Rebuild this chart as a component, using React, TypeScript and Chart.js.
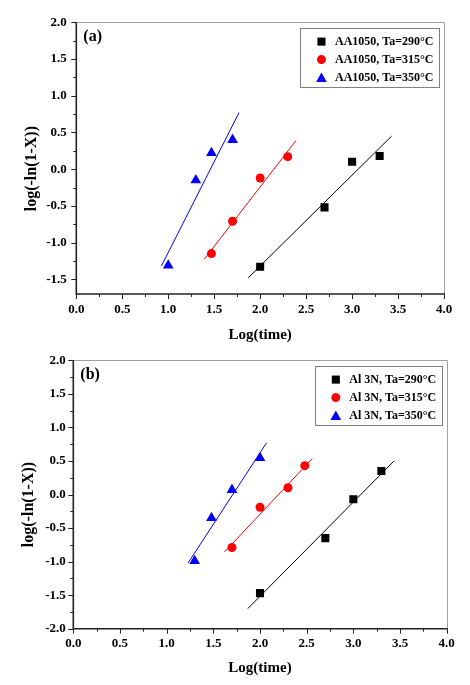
import React, { useEffect, useRef } from 'react';
import { Chart, registerables } from 'chart.js';

Chart.register(...registerables);

// ---------- data ----------
const xTickValues = [0, 0.5, 1.0, 1.5, 2.0, 2.5, 3.0, 3.5, 4.0];
const yTickValuesA = [-1.5, -1.0, -0.5, 0, 0.5, 1.0, 1.5, 2.0];
const yTickValuesB = [-2.0, -1.5, -1.0, -0.5, 0, 0.5, 1.0, 1.5, 2.0];

const xTitle = 'Log(time)';
const yTitle = 'log(-ln(1-X))';
const panelLabels = ['(a)', '(b)'];

const labelsA = ['AA1050, Ta=290°C', 'AA1050, Ta=315°C', 'AA1050, Ta=350°C'];
const labelsB = ['Al 3N, Ta=290°C', 'Al 3N, Ta=315°C', 'Al 3N, Ta=350°C'];

// Panel (a) measured points
const a290X = [2.0, 2.7, 3.0, 3.3];
const a290Y = [-1.33, -0.52, 0.1, 0.18];
const a315X = [1.47, 1.7, 2.0, 2.3];
const a315Y = [-1.15, -0.71, -0.12, 0.17];
const a350X = [1.0, 1.3, 1.47, 1.7];
const a350Y = [-1.31, -0.15, 0.22, 0.4];
// Panel (a) fit lines (start, end)
const a290FitX = [1.87, 3.43];
const a290FitY = [-1.48, 0.45];
const a315FitX = [1.39, 2.39];
const a315FitY = [-1.23, 0.39];
const a350FitX = [0.925, 1.77];
const a350FitY = [-1.32, 0.77];

// Panel (b) measured points
const b290X = [2.0, 2.7, 3.0, 3.3];
const b290Y = [-1.47, -0.65, -0.07, 0.35];
const b315X = [1.7, 2.0, 2.3, 2.48];
const b315Y = [-0.79, -0.19, 0.1, 0.43];
const b350X = [1.3, 1.48, 1.7, 2.0];
const b350Y = [-0.99, -0.35, 0.07, 0.545];
// Panel (b) fit lines
const b290FitX = [1.87, 3.436];
const b290FitY = [-1.7, 0.5];
const b315FitX = [1.62, 2.56];
const b315FitY = [-0.856, 0.535];
const b350FitX = [1.23, 2.07];
const b350FitY = [-1.02, 0.77];

const seriesColors = ['#000000', '#ff0000', '#0000ff'];
const seriesStyles = ['rect', 'circle', 'triangle'];
const seriesRadii = [5.7, 4.5, 6.2];

const FONT = '"Liberation Serif", "Times New Roman", serif';

const zip = (xs: number[], ys: number[]) => xs.map((x, i) => ({ x, y: ys[i] }));

function drawMarker(ctx: CanvasRenderingContext2D, style: string, x: number, y: number, r: number, color: string) {
  ctx.fillStyle = color;
  ctx.beginPath();
  if (style === 'rect') {
    const s = Math.SQRT1_2 * r;
    ctx.rect(x - s, y - s, 2 * s, 2 * s);
  } else if (style === 'circle') {
    ctx.arc(x, y, r, 0, Math.PI * 2);
  } else {
    let a = 0;
    ctx.moveTo(x + Math.sin(a) * r, y - Math.cos(a) * r);
    a += (2 * Math.PI) / 3;
    ctx.lineTo(x + Math.sin(a) * r, y - Math.cos(a) * r);
    a += (2 * Math.PI) / 3;
    ctx.lineTo(x + Math.sin(a) * r, y - Math.cos(a) * r);
    ctx.closePath();
  }
  ctx.fill();
}

const decorPlugin = {
  id: 'decor',
  beforeDatasetsDraw(chart: any, _args: any, opts: any) {
    const { ctx, chartArea: ca, scales } = chart;
    const xs = scales.x;
    const ys = scales.y;
    ctx.save();
    // light frame top/right
    ctx.strokeStyle = '#a0a0a0';
    ctx.lineWidth = 1;
    ctx.beginPath();
    ctx.moveTo(ca.left, Math.round(ca.top) + 0.5);
    ctx.lineTo(Math.round(ca.right) + 0.5, Math.round(ca.top) + 0.5);
    ctx.lineTo(Math.round(ca.right) + 0.5, ca.bottom);
    ctx.stroke();
    // dark axes left/bottom
    ctx.strokeStyle = '#222222';
    ctx.lineWidth = 1.6;
    ctx.beginPath();
    ctx.moveTo(ca.left, ca.top);
    ctx.lineTo(ca.left, ca.bottom);
    ctx.lineTo(ca.right + 1, ca.bottom);
    ctx.stroke();
    // tick marks (major and minor)
    ctx.lineWidth = 1;
    ctx.strokeStyle = '#222222';
    for (let k = Math.ceil(xs.min / 0.25 - 1e-6); k * 0.25 <= xs.max + 1e-6; k++) {
      const v = k * 0.25;
      const major = k % 2 === 0;
      const px = Math.round(xs.getPixelForValue(v)) + 0.5;
      ctx.beginPath();
      ctx.moveTo(px, ca.bottom);
      ctx.lineTo(px, ca.bottom + (major ? 5 : 3));
      ctx.stroke();
    }
    for (let k = Math.ceil(ys.min / 0.25 - 1e-6); k * 0.25 <= ys.max + 1e-6; k++) {
      const v = k * 0.25;
      const major = k % 2 === 0;
      const py = Math.round(ys.getPixelForValue(v)) + 0.5;
      ctx.beginPath();
      ctx.moveTo(ca.left, py);
      ctx.lineTo(ca.left - (major ? 5 : 3), py);
      ctx.stroke();
    }
    ctx.restore();
  },
  afterDatasetsDraw(chart: any, _args: any, opts: any) {
    const { ctx, chartArea: ca } = chart;
    ctx.save();
    // y title
    ctx.fillStyle = '#000';
    ctx.font = `bold 16px ${FONT}`;
    ctx.textAlign = 'center';
    ctx.textBaseline = 'middle';
    ctx.translate(opts.yTitleX, (ca.top + ca.bottom) / 2 + opts.yTitleShift);
    ctx.rotate(-Math.PI / 2);
    ctx.fillText(opts.yTitle, 0, 0);
    ctx.setTransform(1, 0, 0, 1, 0, 0);
    // panel label
    ctx.font = `bold 16px ${FONT}`;
    ctx.textAlign = 'left';
    ctx.textBaseline = 'middle';
    ctx.fillText(opts.panelLabel, ca.left + 7, ca.top + 14.3);
    // legend
    ctx.font = `bold 12px ${FONT}`;
    const labels: string[] = opts.legendLabels;
    const tw = Math.max(...labels.map((l) => ctx.measureText(l).width));
    const boxW = 34.5 + tw + 6;
    const boxH = 59;
    const right = ca.right - 4.5;
    const left = right - boxW;
    const top = ca.top + 5.5;
    ctx.fillStyle = '#ffffff';
    ctx.fillRect(left, top, boxW, boxH);
    ctx.strokeStyle = '#808080';
    ctx.lineWidth = 1;
    ctx.strokeRect(Math.round(left) + 0.5, Math.round(top) + 0.5, Math.round(boxW), Math.round(boxH));
    labels.forEach((l, i) => {
      const cy = top + 13.8 + i * 18;
      drawMarker(ctx, seriesStyles[i], left + 21, cy + (i === 2 ? 1.2 : 0), seriesRadii[i], seriesColors[i]);
      ctx.fillStyle = '#000';
      ctx.textAlign = 'left';
      ctx.textBaseline = 'middle';
      ctx.fillText(l, left + 34.5, cy + 0.5);
    });
    ctx.restore();
  },
};

type Panel = {
  height: number;
  padTop: number;
  padRight: number;
  yWidth: number;
  xHeight: number;
  yMin: number;
  yTicks: number[];
  yLabelPad: number;
  xTitlePadBottom: number;
  yTitleX: number;
  yTitleShift: number;
  panelLabel: string;
  legendLabels: string[];
  points: { x: number; y: number }[][];
  fits: { x: number; y: number }[][];
};

function buildConfig(p: Panel): any {
  const pointSets = p.points.map((d, i) => ({
    label: p.legendLabels[i],
    data: d,
    showLine: false,
    pointStyle: seriesStyles[i],
    pointRadius: seriesRadii[i],
    pointBackgroundColor: seriesColors[i],
    pointBorderColor: seriesColors[i],
    pointBorderWidth: 0,
    order: 0,
  }));
  const fitSets = p.fits.map((d, i) => ({
    label: p.legendLabels[i] + ' fit',
    data: d,
    showLine: true,
    borderColor: seriesColors[i],
    borderWidth: 1,
    pointRadius: 0,
    fill: false,
    order: 1,
  }));
  const tickFont = { family: FONT, size: 13, weight: 'bold' };
  return {
    type: 'scatter',
    data: { datasets: [...pointSets, ...fitSets] },
    options: {
      animation: false,
      responsive: false,
      maintainAspectRatio: false,
      devicePixelRatio: 1,
      events: [],
      layout: { padding: { top: p.padTop, right: p.padRight, left: 0, bottom: 0 } },
      plugins: {
        legend: { display: false },
        tooltip: { enabled: false },
        decor: {
          yTitle,
          yTitleX: p.yTitleX,
          yTitleShift: p.yTitleShift,
          panelLabel: p.panelLabel,
          legendLabels: p.legendLabels,
        },
      },
      scales: {
        x: {
          type: 'linear',
          min: 0,
          max: 4,
          afterBuildTicks: (s: any) => {
            s.ticks = xTickValues.map((v) => ({ value: v }));
          },
          afterFit: (s: any) => {
            s.height = p.xHeight;
          },
          grid: { display: false, drawTicks: false },
          border: { display: false },
          ticks: {
            padding: 7.5,
            color: '#000',
            font: tickFont,
            maxRotation: 0,
            autoSkip: false,
            callback: (v: any) => Number(v).toFixed(1),
          },
          title: {
            display: true,
            text: xTitle,
            color: '#000',
            font: { family: FONT, size: 15, weight: 'bold' },
            padding: { top: 0, bottom: p.xTitlePadBottom },
          },
        },
        y: {
          type: 'linear',
          min: p.yMin,
          max: 2,
          afterBuildTicks: (s: any) => {
            s.ticks = p.yTicks.map((v) => ({ value: v }));
          },
          afterFit: (s: any) => {
            s.width = p.yWidth;
          },
          grid: { display: false, drawTicks: false },
          border: { display: false },
          ticks: {
            padding: p.yLabelPad,
            color: '#000',
            font: tickFont,
            autoSkip: false,
            callback: (v: any) => Number(v).toFixed(1),
          },
          title: { display: false },
        },
      },
    },
    plugins: [decorPlugin],
  };
}

const panelA: Panel = {
  height: 345,
  padTop: 22.3,
  padRight: 26,
  yWidth: 76.3,
  xHeight: 51,
  yMin: -1.7,
  yTicks: yTickValuesA,
  yLabelPad: 9.5,
  xTitlePadBottom: 1,
  yTitleX: 32,
  yTitleShift: 10.5,
  panelLabel: panelLabels[0],
  legendLabels: labelsA,
  points: [zip(a290X, a290Y), zip(a315X, a315Y), zip(a350X, a350Y)],
  fits: [zip(a290FitX, a290FitY), zip(a315FitX, a315FitY), zip(a350FitX, a350FitY)],
};

const panelB: Panel = {
  height: 340,
  padTop: 9.7,
  padRight: 23.3,
  yWidth: 73.3,
  xHeight: 56.3,
  yMin: -2.0,
  yTicks: yTickValuesB,
  yLabelPad: 7.5,
  xTitlePadBottom: 7.7,
  yTitleX: 29.2,
  yTitleShift: 10,
  panelLabel: panelLabels[1],
  legendLabels: labelsB,
  points: [zip(b290X, b290Y), zip(b315X, b315Y), zip(b350X, b350Y)],
  fits: [zip(b290FitX, b290FitY), zip(b315FitX, b315FitY), zip(b350FitX, b350FitY)],
};

function ChartPanel({ panel }: { panel: Panel }) {
  const ref = useRef<HTMLCanvasElement | null>(null);
  useEffect(() => {
    if (!ref.current) return;
    const chart = new Chart(ref.current, buildConfig(panel));
    return () => chart.destroy();
  }, [panel]);
  return (
    <canvas
      ref={ref}
      width={470}
      height={panel.height}
      style={{ display: 'block', width: 470, height: panel.height }}
    />
  );
}

export default function App() {
  return (
    <div style={{ position: 'absolute', left: 0, top: 0, width: 470, height: 685, background: '#fff' }}>
      <ChartPanel panel={panelA} />
      <ChartPanel panel={panelB} />
    </div>
  );
}
